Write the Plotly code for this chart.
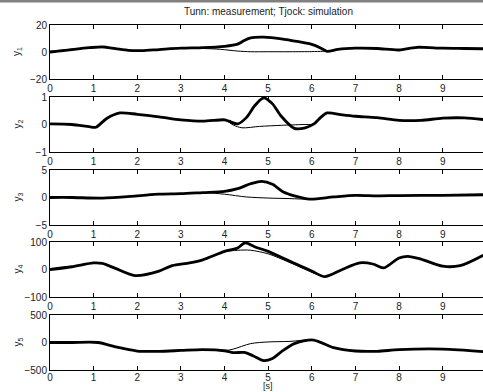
import plotly.graph_objects as go

# ---------------- data ----------------
title_text = "Tunn: measurement; Tjock: simulation"
x_label = "[s]"
y_names = ["y<sub>1</sub>", "y<sub>2</sub>", "y<sub>3</sub>", "y<sub>4</sub>", "y<sub>5</sub>"]
y_limits = [20, 1, 5, 100, 500]
x_ticks = [0, 1, 2, 3, 4, 5, 6, 7, 8, 9]

# y1
t1_sim = [0, 0.3, 0.6, 0.9, 1.2, 1.5, 1.8, 2.1, 2.5, 3.0, 3.5, 4.0, 4.3, 4.45, 4.6, 4.9, 5.3, 5.7, 6.0, 6.2, 6.35, 6.6, 7.0, 7.5, 8.0, 8.4, 9.0, 9.5, 9.93]
y1_sim = [0, 1, 2.2, 3.2, 3.8, 2.5, 1.2, 1.0, 1.8, 2.8, 3.2, 4.2, 5.8, 8.5, 10.5, 11, 9.8, 7.6, 5.6, 3, 0.5, 2, 2.8, 2.6, 1.5, 3.5, 2.8, 2.6, 2.4]
t1_meas = [0, 0.3, 0.6, 0.9, 1.2, 1.5, 1.8, 2.1, 2.5, 3.0, 3.5, 3.9, 4.3, 4.6, 5.0, 5.5, 6.0, 6.25, 6.4, 6.6, 7.0, 7.5, 8.0, 8.4, 9.0, 9.5, 9.93]
y1_meas = [0.5, 1.5, 2.4, 3, 3.2, 2.3, 1.2, 1.0, 1.8, 2.6, 2.6, 2.0, 0.7, 0.2, 0.2, 0.2, 0.3, 0.5, 0.8, 2, 2.8, 2.6, 1.8, 3.0, 2.8, 2.6, 2.4]

# y2
t2_sim = [0, 0.5, 0.9, 1.05, 1.3, 1.6, 2.0, 2.5, 3.0, 3.5, 4.0, 4.1, 4.3, 4.5, 4.7, 4.9, 5.1, 5.3, 5.6, 5.85, 6.05, 6.2, 6.35, 6.7, 7.0, 7.5, 8.0, 8.5, 9.0, 9.5, 9.93]
y2_sim = [0.02, 0, -0.08, -0.1, 0.22, 0.42, 0.37, 0.28, 0.17, 0.12, 0.17, 0.12, 0.02, 0.25, 0.7, 0.97, 0.75, 0.3, -0.14, -0.12, 0.02, 0.25, 0.42, 0.35, 0.3, 0.25, 0.15, 0.15, 0.23, 0.24, 0.18]
t2_meas = [0, 0.5, 0.9, 1.05, 1.3, 1.6, 2.0, 2.5, 3.0, 3.5, 4.0, 4.2, 4.4, 4.8, 5.3, 5.8, 6.05, 6.2, 6.35, 6.7, 7.0, 7.5, 8.0, 8.5, 9.0, 9.5, 9.93]
y2_meas = [0.02, 0, -0.08, -0.1, 0.22, 0.42, 0.37, 0.28, 0.17, 0.12, 0.17, -0.02, -0.12, -0.07, -0.03, 0.0, 0.02, 0.25, 0.42, 0.35, 0.3, 0.25, 0.15, 0.15, 0.23, 0.24, 0.18]

# y3
t3_sim = [0, 0.5, 1.2, 2.0, 2.5, 3.0, 3.5, 4.0, 4.3, 4.6, 4.85, 5.1, 5.35, 5.6, 5.95, 6.5, 7.0, 7.5, 8.0, 9.0, 9.93]
y3_sim = [0, 0, -0.1, 0.3, 0.6, 0.7, 0.9, 1.1, 1.6, 2.5, 2.95, 2.4, 1.0, 0.3, -0.3, 0.1, 0.4, 0.3, 0.35, 0.4, 0.5]
t3_meas = [0, 0.5, 1.2, 2.0, 2.5, 3.0, 3.5, 4.0, 4.5, 5.0, 5.5, 5.95, 6.5, 7.0, 7.5, 8.0, 9.0, 9.93]
y3_meas = [0, 0, -0.1, 0.3, 0.6, 0.7, 0.9, 0.6, 0.1, -0.1, -0.2, -0.3, 0.1, 0.4, 0.3, 0.35, 0.4, 0.5]

# y4
t4_sim = [0, 0.5, 1.0, 1.2, 1.5, 1.95, 2.5, 2.8, 3.2, 3.5, 4.0, 4.3, 4.47, 4.7, 5.0, 5.5, 6.0, 6.3, 6.7, 7.1, 7.4, 7.65, 8.0, 8.2, 8.5, 9.0, 9.4, 9.93]
y4_sim = [0, 10, 24, 22, 4, -22, -6, 14, 24, 35, 66, 78, 97, 82, 66, 30, -6, -26, 0, 24, 20, 6, 42, 48, 38, 12, 14, 52]
t4_meas = [0, 0.5, 1.0, 1.2, 1.5, 1.95, 2.5, 2.8, 3.2, 3.5, 4.0, 4.3, 4.6, 5.0, 5.5, 6.0, 6.3, 6.7, 7.1, 7.4, 7.65, 8.0, 8.2, 8.5, 9.0, 9.4, 9.93]
y4_meas = [0, 10, 24, 22, 4, -22, -6, 14, 24, 35, 64, 70, 70, 57, 25, -10, -26, 0, 24, 20, 6, 42, 48, 38, 12, 14, 52]

# y5
t5_sim = [0, 0.5, 1.1, 1.5, 2.0, 2.5, 3.0, 3.5, 4.0, 4.2, 4.45, 4.65, 4.9, 5.1, 5.3, 5.6, 6.04, 6.5, 7.0, 7.5, 8.0, 9.0, 9.93]
y5_sim = [0, 0, 0, -80, -155, -160, -145, -130, -150, -185, -180, -240, -330, -290, -170, -20, 45, -95, -155, -160, -130, -120, -165]
t5_meas = [0, 0.5, 1.1, 1.5, 2.0, 2.5, 3.0, 3.5, 4.0, 4.2, 4.6, 5.0, 5.5, 6.04, 6.5, 7.0, 7.5, 8.0, 9.0, 9.93]
y5_meas = [0, 0, 0, -80, -155, -160, -145, -130, -150, -120, -20, 10, 20, 45, -95, -155, -160, -130, -120, -165]

sim_t = [t1_sim, t2_sim, t3_sim, t4_sim, t5_sim]
sim_y = [y1_sim, y2_sim, y3_sim, y4_sim, y5_sim]
meas_t = [t1_meas, t2_meas, t3_meas, t4_meas, t5_meas]
meas_y = [y1_meas, y2_meas, y3_meas, y4_meas, y5_meas]

# ---------------- layout ----------------
W, H = 483, 392
ML, MR, MT, MB = 50, 0, 25, 22
plot_h = H - MT - MB
plot_w = W - ML - MR
panel_px = [(25, 79), (97, 152), (170, 225), (242, 297), (315, 370)]
FONT = "Liberation Sans, Arial, Helvetica, sans-serif"

fig = go.Figure()
layout = dict(
    width=W, height=H,
    margin=dict(l=ML, r=MR, t=MT, b=MB, pad=0),
    paper_bgcolor="white", plot_bgcolor="white",
    showlegend=False,
    font=dict(family=FONT, size=10, color="#222"),
)

annotations = []
for i in range(5):
    n = i + 1
    xa = "x" if n == 1 else f"x{n}"
    ya = "y" if n == 1 else f"y{n}"
    top, bot = panel_px[i]
    dom = [(H - MB - bot) / plot_h, (H - MB - top) / plot_h]
    lim = y_limits[i]
    fig.add_trace(go.Scatter(x=sim_t[i], y=sim_y[i], mode="lines",
                             line=dict(color="black", width=2.8, shape="spline", smoothing=0.8),
                             xaxis=xa, yaxis=ya, name="simulation"))
    fig.add_trace(go.Scatter(x=meas_t[i], y=meas_y[i], mode="lines",
                             line=dict(color="black", width=1, shape="spline", smoothing=0.8),
                             xaxis=xa, yaxis=ya, name="measurement"))
    layout["xaxis" if n == 1 else f"xaxis{n}"] = dict(
        domain=[0, 1], range=[0, plot_w / 43.63], anchor=ya,
        tickvals=x_ticks, ticks="inside", ticklen=4, tickwidth=1, tickcolor="black",
        showline=True, linecolor="black", linewidth=1, mirror="allticks",
        showgrid=False, zeroline=False, fixedrange=True,
        ticklabelstandoff=-2 if n == 5 else 0,
        tickfont=dict(size=10, color="#222"),
    )
    layout["yaxis" if n == 1 else f"yaxis{n}"] = dict(
        domain=dom, range=[-lim, lim], anchor=xa,
        tickvals=[-lim, 0, lim], ticks="inside", ticklen=4, tickwidth=1, tickcolor="black",
        showline=True, linecolor="black", linewidth=1,
        showgrid=False, zeroline=False, fixedrange=True,
        tickfont=dict(size=10, color="#222"),
    )
    annotations.append(dict(text=y_names[i], xref="paper", yref="paper",
                            x=(17 - ML) / plot_w, y=(dom[0] + dom[1]) / 2,
                            xanchor="center", yanchor="middle", textangle=-90,
                            showarrow=False, font=dict(size=10, color="#222")))

annotations.append(dict(text=title_text, xref="x", yref="paper", x=5,
                        y=(H - MB - 12) / plot_h, xanchor="center", yanchor="middle",
                        showarrow=False, font=dict(size=10, color="#222")))
annotations.append(dict(text=x_label, xref="x5", yref="paper", x=5,
                        y=(H - MB - 393) / plot_h, xanchor="center", yanchor="bottom",
                        showarrow=False, font=dict(size=9, color="#222")))
layout["annotations"] = annotations
layout["shapes"] = [dict(type="rect", xref="paper", yref="paper",
                         x0=-ML / plot_w, x1=1.01, y0=(H - MB - 2.5) / plot_h, y1=(H - MB + 1) / plot_h,
                         fillcolor="#808080", line=dict(width=0), layer="above")]
fig.update_layout(**layout)

fig.write_html("out.html", config={"displayModeBar": False})
